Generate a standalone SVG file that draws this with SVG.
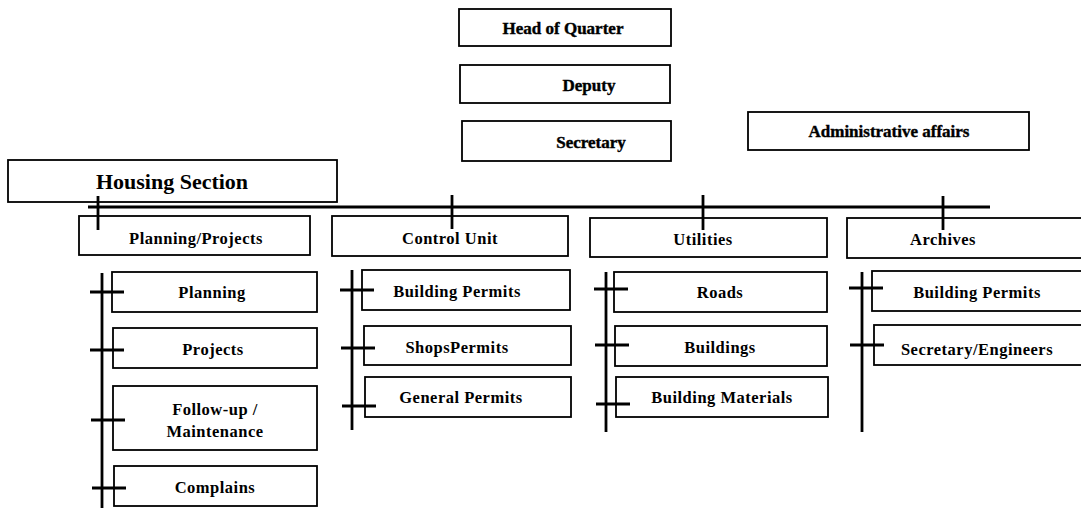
<svg xmlns="http://www.w3.org/2000/svg" width="1081" height="511" viewBox="0 0 1081 511">
  <style>
    .box { fill: #ffffff; stroke: #000000; stroke-width: 1.8; }
    .lbl { font-family: "Liberation Serif", "Times New Roman", serif; font-weight: bold; font-size: 16.5px; letter-spacing: 0.5px; fill: #000000; text-anchor: middle; dominant-baseline: central; }
    .top { font-size: 17px; letter-spacing: 0; stroke: #000000; stroke-width: 0.4; }
    .big { font-size: 22px; letter-spacing: 0; }
    .ln { stroke: #000000; stroke-width: 2.8; fill: none; }
  </style>
  <rect width="1081" height="511" fill="#ffffff"/>

  <!-- management -->
  <g id="head"><rect class="box" x="459" y="9" width="212" height="37"/><text class="lbl top" x="563" y="28">Head of Quarter</text></g>
  <g id="deputy"><rect class="box" x="460" y="65" width="210" height="38"/><text class="lbl top" x="589" y="85">Deputy</text></g>
  <g id="secretary"><rect class="box" x="462" y="121" width="209" height="40"/><text class="lbl top" x="591" y="142">Secretary</text></g>
  <g id="admin"><rect class="box" x="748" y="112" width="281" height="38"/><text class="lbl top" x="889" y="131">Administrative affairs</text></g>
  <g id="housing"><rect class="box" x="8" y="160" width="329" height="42"/><text class="lbl big" x="172" y="181">Housing Section</text></g>

  <!-- departments -->
  <g id="dept-planning"><rect class="box" x="79" y="216" width="231" height="39"/><text class="lbl" x="196" y="238">Planning/Projects</text></g>
  <g id="dept-control"><rect class="box" x="332" y="216" width="236" height="40"/><text class="lbl" x="450" y="238">Control Unit</text></g>
  <g id="dept-utilities"><rect class="box" x="590" y="218" width="237" height="39"/><text class="lbl" x="703" y="239">Utilities</text></g>
  <g id="dept-archives"><rect class="box" x="847" y="218" width="240" height="40"/><text class="lbl" x="943" y="239">Archives</text></g>

  <!-- planning units -->
  <g id="u-planning"><rect class="box" x="112" y="272" width="205" height="40"/><text class="lbl" x="212" y="292">Planning</text></g>
  <g id="u-projects"><rect class="box" x="113" y="328" width="204" height="40"/><text class="lbl" x="213" y="349">Projects</text></g>
  <g id="u-followup"><rect class="box" x="113" y="386" width="204" height="64"/><text class="lbl" x="215" y="409">Follow-up /</text><text class="lbl" x="215" y="431">Maintenance</text></g>
  <g id="u-complains"><rect class="box" x="114" y="466" width="203" height="40"/><text class="lbl" x="215" y="487">Complains</text></g>

  <!-- control units -->
  <g id="c-building"><rect class="box" x="362" y="270" width="208" height="40"/><text class="lbl" x="457" y="291">Building Permits</text></g>
  <g id="c-shops"><rect class="box" x="364" y="326" width="207" height="39"/><text class="lbl" x="457" y="347">ShopsPermits</text></g>
  <g id="c-general"><rect class="box" x="365" y="377" width="206" height="40"/><text class="lbl" x="461" y="397">General Permits</text></g>

  <!-- utilities units -->
  <g id="t-roads"><rect class="box" x="614" y="272" width="213" height="40"/><text class="lbl" x="720" y="292">Roads</text></g>
  <g id="t-buildings"><rect class="box" x="615" y="326" width="212" height="40"/><text class="lbl" x="720" y="347">Buildings</text></g>
  <g id="t-materials"><rect class="box" x="616" y="377" width="212" height="40"/><text class="lbl" x="722" y="397">Building Materials</text></g>

  <!-- archives units -->
  <g id="a-building"><rect class="box" x="872" y="271" width="215" height="40"/><text class="lbl" x="977" y="292">Building Permits</text></g>
  <g id="a-secretary"><rect class="box" x="874" y="325" width="213" height="40"/><text class="lbl" x="977" y="349">Secretary/Engineers</text></g>

  <!-- connectors -->
  <g id="connectors" class="ln">
    <line x1="88" y1="207" x2="990" y2="207"/>
    <line x1="98" y1="196" x2="98" y2="230"/>
    <line x1="452" y1="195" x2="452" y2="229"/>
    <line x1="703" y1="195" x2="703" y2="230"/>
    <line x1="943" y1="196" x2="943" y2="230"/>

    <line x1="102" y1="273" x2="102" y2="508"/>
    <line x1="90" y1="292" x2="124" y2="292"/>
    <line x1="90" y1="350" x2="124" y2="350"/>
    <line x1="91" y1="420" x2="125" y2="420"/>
    <line x1="92" y1="488" x2="126" y2="488"/>

    <line x1="352" y1="270" x2="352" y2="430"/>
    <line x1="340" y1="290" x2="374" y2="290"/>
    <line x1="341" y1="348" x2="375" y2="348"/>
    <line x1="342" y1="406" x2="376" y2="406"/>

    <line x1="606" y1="272" x2="606" y2="432"/>
    <line x1="594" y1="289" x2="628" y2="289"/>
    <line x1="595" y1="345" x2="629" y2="345"/>
    <line x1="596" y1="404" x2="630" y2="404"/>

    <line x1="862" y1="272" x2="862" y2="432"/>
    <line x1="849" y1="288" x2="883" y2="288"/>
    <line x1="850" y1="345" x2="884" y2="345"/>
  </g>
</svg>
